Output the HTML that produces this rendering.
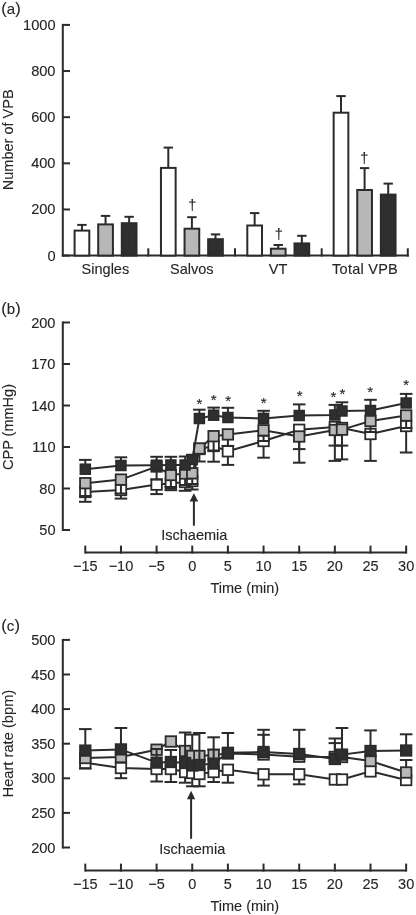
<!DOCTYPE html>
<html><head><meta charset="utf-8"><style>
html,body{margin:0;padding:0;background:#fff;}
body{width:416px;height:915px;overflow:hidden;}
svg{display:block;filter:blur(0.3px);}
text{font-family:"Liberation Sans",sans-serif;fill:#262626;stroke:#262626;stroke-width:0.12px;}
</style></head><body>
<svg width="416" height="915" viewBox="0 0 416 915">
<text x="1.2" y="13.8" font-size="16.5">(<tspan font-size="15" dx="0.1">a</tspan><tspan dx="0.2">)</tspan></text>
<line x1="62.80" y1="23.90" x2="62.80" y2="256.60" stroke="#2b2b2b" stroke-width="2.0"/>
<line x1="62.80" y1="255.60" x2="70.00" y2="255.60" stroke="#2b2b2b" stroke-width="2.0"/>
<text x="55.50" y="260.60" font-size="14.6" text-anchor="end" >0</text>
<line x1="62.80" y1="209.46" x2="70.00" y2="209.46" stroke="#2b2b2b" stroke-width="2.0"/>
<text x="55.50" y="214.46" font-size="14.6" text-anchor="end" >200</text>
<line x1="62.80" y1="163.32" x2="70.00" y2="163.32" stroke="#2b2b2b" stroke-width="2.0"/>
<text x="55.50" y="168.32" font-size="14.6" text-anchor="end" >400</text>
<line x1="62.80" y1="117.18" x2="70.00" y2="117.18" stroke="#2b2b2b" stroke-width="2.0"/>
<text x="55.50" y="122.18" font-size="14.6" text-anchor="end" >600</text>
<line x1="62.80" y1="71.04" x2="70.00" y2="71.04" stroke="#2b2b2b" stroke-width="2.0"/>
<text x="55.50" y="76.04" font-size="14.6" text-anchor="end" >800</text>
<line x1="62.80" y1="24.90" x2="70.00" y2="24.90" stroke="#2b2b2b" stroke-width="2.0"/>
<text x="55.50" y="29.90" font-size="14.6" text-anchor="end" >1000</text>
<line x1="61.80" y1="255.60" x2="408.80" y2="255.60" stroke="#2b2b2b" stroke-width="2.0"/>
<line x1="148.30" y1="256.60" x2="148.30" y2="248.30" stroke="#2b2b2b" stroke-width="2.0"/>
<line x1="235.00" y1="256.60" x2="235.00" y2="248.30" stroke="#2b2b2b" stroke-width="2.0"/>
<line x1="321.70" y1="256.60" x2="321.70" y2="248.30" stroke="#2b2b2b" stroke-width="2.0"/>
<line x1="407.80" y1="256.60" x2="407.80" y2="248.30" stroke="#2b2b2b" stroke-width="2.0"/>
<text transform="translate(12.8,139.8) rotate(-90)" font-size="14.5" text-anchor="middle">Number of VPB</text>
<line x1="81.95" y1="230.60" x2="81.95" y2="224.90" stroke="#2b2b2b" stroke-width="2.0"/>
<line x1="77.25" y1="224.90" x2="86.65" y2="224.90" stroke="#2b2b2b" stroke-width="2.0"/>
<rect x="74.60" y="230.60" width="14.70" height="25.00" fill="#ffffff" stroke="#2b2b2b" stroke-width="2.0"/>
<line x1="105.55" y1="224.40" x2="105.55" y2="215.90" stroke="#2b2b2b" stroke-width="2.0"/>
<line x1="100.85" y1="215.90" x2="110.25" y2="215.90" stroke="#2b2b2b" stroke-width="2.0"/>
<rect x="98.20" y="224.40" width="14.70" height="31.20" fill="#b8b8b8" stroke="#2b2b2b" stroke-width="2.0"/>
<line x1="129.15" y1="223.20" x2="129.15" y2="216.80" stroke="#2b2b2b" stroke-width="2.0"/>
<line x1="124.45" y1="216.80" x2="133.85" y2="216.80" stroke="#2b2b2b" stroke-width="2.0"/>
<rect x="121.80" y="223.20" width="14.70" height="32.40" fill="#2f2f2f" stroke="#2b2b2b" stroke-width="2.0"/>
<text x="105.40" y="273.80" font-size="14.5" text-anchor="middle" >Singles</text>
<line x1="168.30" y1="167.90" x2="168.30" y2="147.60" stroke="#2b2b2b" stroke-width="2.0"/>
<line x1="163.60" y1="147.60" x2="173.00" y2="147.60" stroke="#2b2b2b" stroke-width="2.0"/>
<rect x="160.95" y="167.90" width="14.70" height="87.70" fill="#ffffff" stroke="#2b2b2b" stroke-width="2.0"/>
<line x1="191.90" y1="228.70" x2="191.90" y2="217.20" stroke="#2b2b2b" stroke-width="2.0"/>
<line x1="187.20" y1="217.20" x2="196.60" y2="217.20" stroke="#2b2b2b" stroke-width="2.0"/>
<rect x="184.55" y="228.70" width="14.70" height="26.90" fill="#b8b8b8" stroke="#2b2b2b" stroke-width="2.0"/>
<line x1="215.50" y1="239.20" x2="215.50" y2="234.40" stroke="#2b2b2b" stroke-width="2.0"/>
<line x1="210.80" y1="234.40" x2="220.20" y2="234.40" stroke="#2b2b2b" stroke-width="2.0"/>
<rect x="208.15" y="239.20" width="14.70" height="16.40" fill="#2f2f2f" stroke="#2b2b2b" stroke-width="2.0"/>
<text x="191.75" y="273.80" font-size="14.5" text-anchor="middle" >Salvos</text>
<line x1="254.65" y1="225.50" x2="254.65" y2="213.10" stroke="#2b2b2b" stroke-width="2.0"/>
<line x1="249.95" y1="213.10" x2="259.35" y2="213.10" stroke="#2b2b2b" stroke-width="2.0"/>
<rect x="247.30" y="225.50" width="14.70" height="30.10" fill="#ffffff" stroke="#2b2b2b" stroke-width="2.0"/>
<line x1="278.25" y1="248.70" x2="278.25" y2="245.00" stroke="#2b2b2b" stroke-width="2.0"/>
<line x1="273.55" y1="245.00" x2="282.95" y2="245.00" stroke="#2b2b2b" stroke-width="2.0"/>
<rect x="270.90" y="248.70" width="14.70" height="6.90" fill="#b8b8b8" stroke="#2b2b2b" stroke-width="2.0"/>
<line x1="301.85" y1="243.40" x2="301.85" y2="235.80" stroke="#2b2b2b" stroke-width="2.0"/>
<line x1="297.15" y1="235.80" x2="306.55" y2="235.80" stroke="#2b2b2b" stroke-width="2.0"/>
<rect x="294.50" y="243.40" width="14.70" height="12.20" fill="#2f2f2f" stroke="#2b2b2b" stroke-width="2.0"/>
<text x="278.10" y="273.80" font-size="14.5" text-anchor="middle" >VT</text>
<line x1="341.00" y1="112.70" x2="341.00" y2="96.10" stroke="#2b2b2b" stroke-width="2.0"/>
<line x1="336.30" y1="96.10" x2="345.70" y2="96.10" stroke="#2b2b2b" stroke-width="2.0"/>
<rect x="333.65" y="112.70" width="14.70" height="142.90" fill="#ffffff" stroke="#2b2b2b" stroke-width="2.0"/>
<line x1="364.60" y1="190.00" x2="364.60" y2="168.10" stroke="#2b2b2b" stroke-width="2.0"/>
<line x1="359.90" y1="168.10" x2="369.30" y2="168.10" stroke="#2b2b2b" stroke-width="2.0"/>
<rect x="357.25" y="190.00" width="14.70" height="65.60" fill="#b8b8b8" stroke="#2b2b2b" stroke-width="2.0"/>
<line x1="388.20" y1="194.60" x2="388.20" y2="183.60" stroke="#2b2b2b" stroke-width="2.0"/>
<line x1="383.50" y1="183.60" x2="392.90" y2="183.60" stroke="#2b2b2b" stroke-width="2.0"/>
<rect x="380.85" y="194.60" width="14.70" height="61.00" fill="#2f2f2f" stroke="#2b2b2b" stroke-width="2.0"/>
<text x="365.05" y="273.80" font-size="14.5" text-anchor="middle" letter-spacing="0.25">Total VPB</text>
<text x="192.40" y="210.30" font-size="14.5" text-anchor="middle" >&#8224;</text>
<text x="278.70" y="239.40" font-size="14.5" text-anchor="middle" >&#8224;</text>
<text x="364.30" y="162.60" font-size="14.5" text-anchor="middle" >&#8224;</text>
<text x="1.2" y="314.2" font-size="16.5">(<tspan font-size="15" dx="0.1">b</tspan><tspan dx="0.2">)</tspan></text>
<line x1="62.80" y1="321.50" x2="62.80" y2="531.00" stroke="#2b2b2b" stroke-width="2.0"/>
<line x1="62.80" y1="530.00" x2="70.00" y2="530.00" stroke="#2b2b2b" stroke-width="2.0"/>
<text x="55.50" y="535.00" font-size="14.6" text-anchor="end" >50</text>
<line x1="62.80" y1="488.50" x2="70.00" y2="488.50" stroke="#2b2b2b" stroke-width="2.0"/>
<text x="55.50" y="493.50" font-size="14.6" text-anchor="end" >80</text>
<line x1="62.80" y1="447.00" x2="70.00" y2="447.00" stroke="#2b2b2b" stroke-width="2.0"/>
<text x="55.50" y="452.00" font-size="14.6" text-anchor="end" >110</text>
<line x1="62.80" y1="405.50" x2="70.00" y2="405.50" stroke="#2b2b2b" stroke-width="2.0"/>
<text x="55.50" y="410.50" font-size="14.6" text-anchor="end" >140</text>
<line x1="62.80" y1="364.00" x2="70.00" y2="364.00" stroke="#2b2b2b" stroke-width="2.0"/>
<text x="55.50" y="369.00" font-size="14.6" text-anchor="end" >170</text>
<line x1="62.80" y1="322.50" x2="70.00" y2="322.50" stroke="#2b2b2b" stroke-width="2.0"/>
<text x="55.50" y="327.50" font-size="14.6" text-anchor="end" >200</text>
<text transform="translate(12.8,427) rotate(-90)" font-size="14.5" text-anchor="middle">CPP (mmHg)</text>
<line x1="85.30" y1="552.60" x2="406.15" y2="552.60" stroke="#2b2b2b" stroke-width="2.0"/>
<line x1="85.30" y1="553.60" x2="85.30" y2="545.60" stroke="#2b2b2b" stroke-width="2.0"/>
<text x="85.30" y="570.60" font-size="14.5" text-anchor="middle" >&#8722;15</text>
<line x1="120.95" y1="553.60" x2="120.95" y2="545.60" stroke="#2b2b2b" stroke-width="2.0"/>
<text x="120.95" y="570.60" font-size="14.5" text-anchor="middle" >&#8722;10</text>
<line x1="156.60" y1="553.60" x2="156.60" y2="545.60" stroke="#2b2b2b" stroke-width="2.0"/>
<text x="156.60" y="570.60" font-size="14.5" text-anchor="middle" >&#8722;5</text>
<line x1="192.25" y1="553.60" x2="192.25" y2="545.60" stroke="#2b2b2b" stroke-width="2.0"/>
<text x="192.25" y="570.60" font-size="14.5" text-anchor="middle" >0</text>
<line x1="227.90" y1="553.60" x2="227.90" y2="545.60" stroke="#2b2b2b" stroke-width="2.0"/>
<text x="227.90" y="570.60" font-size="14.5" text-anchor="middle" >5</text>
<line x1="263.55" y1="553.60" x2="263.55" y2="545.60" stroke="#2b2b2b" stroke-width="2.0"/>
<text x="263.55" y="570.60" font-size="14.5" text-anchor="middle" >10</text>
<line x1="299.20" y1="553.60" x2="299.20" y2="545.60" stroke="#2b2b2b" stroke-width="2.0"/>
<text x="299.20" y="570.60" font-size="14.5" text-anchor="middle" >15</text>
<line x1="334.85" y1="553.60" x2="334.85" y2="545.60" stroke="#2b2b2b" stroke-width="2.0"/>
<text x="334.85" y="570.60" font-size="14.5" text-anchor="middle" >20</text>
<line x1="370.50" y1="553.60" x2="370.50" y2="545.60" stroke="#2b2b2b" stroke-width="2.0"/>
<text x="370.50" y="570.60" font-size="14.5" text-anchor="middle" >25</text>
<line x1="406.15" y1="553.60" x2="406.15" y2="545.60" stroke="#2b2b2b" stroke-width="2.0"/>
<text x="406.15" y="570.60" font-size="14.5" text-anchor="middle" >30</text>
<text x="244.80" y="593.00" font-size="14.5" text-anchor="middle" >Time (min)</text>
<polyline points="85.30,492.00 120.95,490.00 156.60,484.60 170.86,483.50 185.12,482.00 192.25,481.00 199.38,449.00 213.64,446.00 227.90,451.30 263.55,441.00 299.20,429.80 334.85,427.00 341.98,428.00 370.50,434.00 406.15,426.00" fill="none" stroke="#2b2b2b" stroke-width="2.0"/>
<line x1="85.30" y1="492.00" x2="85.30" y2="501.80" stroke="#2b2b2b" stroke-width="2.0"/>
<line x1="79.00" y1="501.80" x2="91.60" y2="501.80" stroke="#2b2b2b" stroke-width="2.0"/>
<line x1="120.95" y1="490.00" x2="120.95" y2="498.60" stroke="#2b2b2b" stroke-width="2.0"/>
<line x1="114.65" y1="498.60" x2="127.25" y2="498.60" stroke="#2b2b2b" stroke-width="2.0"/>
<line x1="156.60" y1="484.60" x2="156.60" y2="494.10" stroke="#2b2b2b" stroke-width="2.0"/>
<line x1="150.30" y1="494.10" x2="162.90" y2="494.10" stroke="#2b2b2b" stroke-width="2.0"/>
<line x1="170.86" y1="483.50" x2="170.86" y2="490.20" stroke="#2b2b2b" stroke-width="2.0"/>
<line x1="164.56" y1="490.20" x2="177.16" y2="490.20" stroke="#2b2b2b" stroke-width="2.0"/>
<line x1="185.12" y1="482.00" x2="185.12" y2="490.80" stroke="#2b2b2b" stroke-width="2.0"/>
<line x1="178.82" y1="490.80" x2="191.42" y2="490.80" stroke="#2b2b2b" stroke-width="2.0"/>
<line x1="192.25" y1="481.00" x2="192.25" y2="489.50" stroke="#2b2b2b" stroke-width="2.0"/>
<line x1="185.95" y1="489.50" x2="198.55" y2="489.50" stroke="#2b2b2b" stroke-width="2.0"/>
<line x1="199.38" y1="449.00" x2="199.38" y2="461.50" stroke="#2b2b2b" stroke-width="2.0"/>
<line x1="193.08" y1="461.50" x2="205.68" y2="461.50" stroke="#2b2b2b" stroke-width="2.0"/>
<line x1="213.64" y1="446.00" x2="213.64" y2="461.70" stroke="#2b2b2b" stroke-width="2.0"/>
<line x1="207.34" y1="461.70" x2="219.94" y2="461.70" stroke="#2b2b2b" stroke-width="2.0"/>
<line x1="227.90" y1="451.30" x2="227.90" y2="464.90" stroke="#2b2b2b" stroke-width="2.0"/>
<line x1="221.60" y1="464.90" x2="234.20" y2="464.90" stroke="#2b2b2b" stroke-width="2.0"/>
<line x1="263.55" y1="441.00" x2="263.55" y2="457.70" stroke="#2b2b2b" stroke-width="2.0"/>
<line x1="257.25" y1="457.70" x2="269.85" y2="457.70" stroke="#2b2b2b" stroke-width="2.0"/>
<line x1="299.20" y1="429.80" x2="299.20" y2="462.70" stroke="#2b2b2b" stroke-width="2.0"/>
<line x1="292.90" y1="462.70" x2="305.50" y2="462.70" stroke="#2b2b2b" stroke-width="2.0"/>
<line x1="334.85" y1="427.00" x2="334.85" y2="460.90" stroke="#2b2b2b" stroke-width="2.0"/>
<line x1="328.55" y1="460.90" x2="341.15" y2="460.90" stroke="#2b2b2b" stroke-width="2.0"/>
<line x1="341.98" y1="428.00" x2="341.98" y2="459.40" stroke="#2b2b2b" stroke-width="2.0"/>
<line x1="335.68" y1="459.40" x2="348.28" y2="459.40" stroke="#2b2b2b" stroke-width="2.0"/>
<line x1="370.50" y1="434.00" x2="370.50" y2="460.90" stroke="#2b2b2b" stroke-width="2.0"/>
<line x1="364.20" y1="460.90" x2="376.80" y2="460.90" stroke="#2b2b2b" stroke-width="2.0"/>
<line x1="406.15" y1="426.00" x2="406.15" y2="452.50" stroke="#2b2b2b" stroke-width="2.0"/>
<line x1="399.85" y1="452.50" x2="412.45" y2="452.50" stroke="#2b2b2b" stroke-width="2.0"/>
<rect x="80.05" y="486.75" width="10.50" height="10.50" fill="#ffffff" stroke="#2b2b2b" stroke-width="1.8"/>
<rect x="115.70" y="484.75" width="10.50" height="10.50" fill="#ffffff" stroke="#2b2b2b" stroke-width="1.8"/>
<rect x="151.35" y="479.35" width="10.50" height="10.50" fill="#ffffff" stroke="#2b2b2b" stroke-width="1.8"/>
<rect x="165.61" y="478.25" width="10.50" height="10.50" fill="#ffffff" stroke="#2b2b2b" stroke-width="1.8"/>
<rect x="179.87" y="476.75" width="10.50" height="10.50" fill="#ffffff" stroke="#2b2b2b" stroke-width="1.8"/>
<rect x="187.00" y="475.75" width="10.50" height="10.50" fill="#ffffff" stroke="#2b2b2b" stroke-width="1.8"/>
<rect x="194.13" y="443.75" width="10.50" height="10.50" fill="#ffffff" stroke="#2b2b2b" stroke-width="1.8"/>
<rect x="208.39" y="440.75" width="10.50" height="10.50" fill="#ffffff" stroke="#2b2b2b" stroke-width="1.8"/>
<rect x="222.65" y="446.05" width="10.50" height="10.50" fill="#ffffff" stroke="#2b2b2b" stroke-width="1.8"/>
<rect x="258.30" y="435.75" width="10.50" height="10.50" fill="#ffffff" stroke="#2b2b2b" stroke-width="1.8"/>
<rect x="293.95" y="424.55" width="10.50" height="10.50" fill="#ffffff" stroke="#2b2b2b" stroke-width="1.8"/>
<rect x="329.60" y="421.75" width="10.50" height="10.50" fill="#ffffff" stroke="#2b2b2b" stroke-width="1.8"/>
<rect x="336.73" y="422.75" width="10.50" height="10.50" fill="#ffffff" stroke="#2b2b2b" stroke-width="1.8"/>
<rect x="365.25" y="428.75" width="10.50" height="10.50" fill="#ffffff" stroke="#2b2b2b" stroke-width="1.8"/>
<rect x="400.90" y="420.75" width="10.50" height="10.50" fill="#ffffff" stroke="#2b2b2b" stroke-width="1.8"/>
<polyline points="85.30,483.20 120.95,479.60 156.60,466.50 170.86,475.00 185.12,473.50 192.25,473.30 199.38,448.50 213.64,436.20 227.90,434.40 263.55,430.30 299.20,436.50 334.85,430.00 341.98,429.60 370.50,421.00 406.15,415.50" fill="none" stroke="#2b2b2b" stroke-width="2.0"/>
<line x1="85.30" y1="483.20" x2="85.30" y2="496.00" stroke="#2b2b2b" stroke-width="2.0"/>
<line x1="79.00" y1="496.00" x2="91.60" y2="496.00" stroke="#2b2b2b" stroke-width="2.0"/>
<line x1="120.95" y1="479.60" x2="120.95" y2="493.50" stroke="#2b2b2b" stroke-width="2.0"/>
<line x1="114.65" y1="493.50" x2="127.25" y2="493.50" stroke="#2b2b2b" stroke-width="2.0"/>
<line x1="156.60" y1="466.50" x2="156.60" y2="479.50" stroke="#2b2b2b" stroke-width="2.0"/>
<line x1="150.30" y1="479.50" x2="162.90" y2="479.50" stroke="#2b2b2b" stroke-width="2.0"/>
<line x1="170.86" y1="475.00" x2="170.86" y2="487.00" stroke="#2b2b2b" stroke-width="2.0"/>
<line x1="164.56" y1="487.00" x2="177.16" y2="487.00" stroke="#2b2b2b" stroke-width="2.0"/>
<line x1="185.12" y1="473.50" x2="185.12" y2="485.00" stroke="#2b2b2b" stroke-width="2.0"/>
<line x1="178.82" y1="485.00" x2="191.42" y2="485.00" stroke="#2b2b2b" stroke-width="2.0"/>
<line x1="192.25" y1="473.30" x2="192.25" y2="484.00" stroke="#2b2b2b" stroke-width="2.0"/>
<line x1="185.95" y1="484.00" x2="198.55" y2="484.00" stroke="#2b2b2b" stroke-width="2.0"/>
<line x1="199.38" y1="448.50" x2="199.38" y2="453.00" stroke="#2b2b2b" stroke-width="2.0"/>
<line x1="193.08" y1="453.00" x2="205.68" y2="453.00" stroke="#2b2b2b" stroke-width="2.0"/>
<line x1="213.64" y1="436.20" x2="213.64" y2="450.50" stroke="#2b2b2b" stroke-width="2.0"/>
<line x1="207.34" y1="450.50" x2="219.94" y2="450.50" stroke="#2b2b2b" stroke-width="2.0"/>
<line x1="227.90" y1="434.40" x2="227.90" y2="445.90" stroke="#2b2b2b" stroke-width="2.0"/>
<line x1="221.60" y1="445.90" x2="234.20" y2="445.90" stroke="#2b2b2b" stroke-width="2.0"/>
<line x1="263.55" y1="430.30" x2="263.55" y2="441.00" stroke="#2b2b2b" stroke-width="2.0"/>
<line x1="257.25" y1="441.00" x2="269.85" y2="441.00" stroke="#2b2b2b" stroke-width="2.0"/>
<line x1="299.20" y1="436.50" x2="299.20" y2="449.10" stroke="#2b2b2b" stroke-width="2.0"/>
<line x1="292.90" y1="449.10" x2="305.50" y2="449.10" stroke="#2b2b2b" stroke-width="2.0"/>
<line x1="334.85" y1="430.00" x2="334.85" y2="445.60" stroke="#2b2b2b" stroke-width="2.0"/>
<line x1="328.55" y1="445.60" x2="341.15" y2="445.60" stroke="#2b2b2b" stroke-width="2.0"/>
<line x1="341.98" y1="429.60" x2="341.98" y2="445.60" stroke="#2b2b2b" stroke-width="2.0"/>
<line x1="335.68" y1="445.60" x2="348.28" y2="445.60" stroke="#2b2b2b" stroke-width="2.0"/>
<line x1="370.50" y1="421.00" x2="370.50" y2="432.00" stroke="#2b2b2b" stroke-width="2.0"/>
<line x1="364.20" y1="432.00" x2="376.80" y2="432.00" stroke="#2b2b2b" stroke-width="2.0"/>
<line x1="406.15" y1="415.50" x2="406.15" y2="428.00" stroke="#2b2b2b" stroke-width="2.0"/>
<line x1="399.85" y1="428.00" x2="412.45" y2="428.00" stroke="#2b2b2b" stroke-width="2.0"/>
<rect x="80.05" y="477.95" width="10.50" height="10.50" fill="#b8b8b8" stroke="#2b2b2b" stroke-width="1.8"/>
<rect x="115.70" y="474.35" width="10.50" height="10.50" fill="#b8b8b8" stroke="#2b2b2b" stroke-width="1.8"/>
<rect x="151.35" y="461.25" width="10.50" height="10.50" fill="#b8b8b8" stroke="#2b2b2b" stroke-width="1.8"/>
<rect x="165.61" y="469.75" width="10.50" height="10.50" fill="#b8b8b8" stroke="#2b2b2b" stroke-width="1.8"/>
<rect x="179.87" y="468.25" width="10.50" height="10.50" fill="#b8b8b8" stroke="#2b2b2b" stroke-width="1.8"/>
<rect x="187.00" y="468.05" width="10.50" height="10.50" fill="#b8b8b8" stroke="#2b2b2b" stroke-width="1.8"/>
<rect x="194.13" y="443.25" width="10.50" height="10.50" fill="#b8b8b8" stroke="#2b2b2b" stroke-width="1.8"/>
<rect x="208.39" y="430.95" width="10.50" height="10.50" fill="#b8b8b8" stroke="#2b2b2b" stroke-width="1.8"/>
<rect x="222.65" y="429.15" width="10.50" height="10.50" fill="#b8b8b8" stroke="#2b2b2b" stroke-width="1.8"/>
<rect x="258.30" y="425.05" width="10.50" height="10.50" fill="#b8b8b8" stroke="#2b2b2b" stroke-width="1.8"/>
<rect x="293.95" y="431.25" width="10.50" height="10.50" fill="#b8b8b8" stroke="#2b2b2b" stroke-width="1.8"/>
<rect x="329.60" y="424.75" width="10.50" height="10.50" fill="#b8b8b8" stroke="#2b2b2b" stroke-width="1.8"/>
<rect x="336.73" y="424.35" width="10.50" height="10.50" fill="#b8b8b8" stroke="#2b2b2b" stroke-width="1.8"/>
<rect x="365.25" y="415.75" width="10.50" height="10.50" fill="#b8b8b8" stroke="#2b2b2b" stroke-width="1.8"/>
<rect x="400.90" y="410.25" width="10.50" height="10.50" fill="#b8b8b8" stroke="#2b2b2b" stroke-width="1.8"/>
<polyline points="85.30,469.20 120.95,465.50 156.60,465.20 170.86,465.00 185.12,465.00 192.25,459.50 199.38,418.50 213.64,415.20 227.90,417.50 263.55,418.40 299.20,415.50 334.85,415.00 341.98,411.00 370.50,410.50 406.15,403.00" fill="none" stroke="#2b2b2b" stroke-width="2.0"/>
<line x1="85.30" y1="469.20" x2="85.30" y2="459.90" stroke="#2b2b2b" stroke-width="2.0"/>
<line x1="79.00" y1="459.90" x2="91.60" y2="459.90" stroke="#2b2b2b" stroke-width="2.0"/>
<line x1="120.95" y1="465.50" x2="120.95" y2="457.30" stroke="#2b2b2b" stroke-width="2.0"/>
<line x1="114.65" y1="457.30" x2="127.25" y2="457.30" stroke="#2b2b2b" stroke-width="2.0"/>
<line x1="156.60" y1="465.20" x2="156.60" y2="456.80" stroke="#2b2b2b" stroke-width="2.0"/>
<line x1="150.30" y1="456.80" x2="162.90" y2="456.80" stroke="#2b2b2b" stroke-width="2.0"/>
<line x1="170.86" y1="465.00" x2="170.86" y2="456.80" stroke="#2b2b2b" stroke-width="2.0"/>
<line x1="164.56" y1="456.80" x2="177.16" y2="456.80" stroke="#2b2b2b" stroke-width="2.0"/>
<line x1="185.12" y1="465.00" x2="185.12" y2="456.50" stroke="#2b2b2b" stroke-width="2.0"/>
<line x1="178.82" y1="456.50" x2="191.42" y2="456.50" stroke="#2b2b2b" stroke-width="2.0"/>
<line x1="192.25" y1="459.50" x2="192.25" y2="455.00" stroke="#2b2b2b" stroke-width="2.0"/>
<line x1="185.95" y1="455.00" x2="198.55" y2="455.00" stroke="#2b2b2b" stroke-width="2.0"/>
<line x1="199.38" y1="418.50" x2="199.38" y2="409.70" stroke="#2b2b2b" stroke-width="2.0"/>
<line x1="193.08" y1="409.70" x2="205.68" y2="409.70" stroke="#2b2b2b" stroke-width="2.0"/>
<line x1="213.64" y1="415.20" x2="213.64" y2="407.60" stroke="#2b2b2b" stroke-width="2.0"/>
<line x1="207.34" y1="407.60" x2="219.94" y2="407.60" stroke="#2b2b2b" stroke-width="2.0"/>
<line x1="227.90" y1="417.50" x2="227.90" y2="407.80" stroke="#2b2b2b" stroke-width="2.0"/>
<line x1="221.60" y1="407.80" x2="234.20" y2="407.80" stroke="#2b2b2b" stroke-width="2.0"/>
<line x1="263.55" y1="418.40" x2="263.55" y2="410.80" stroke="#2b2b2b" stroke-width="2.0"/>
<line x1="257.25" y1="410.80" x2="269.85" y2="410.80" stroke="#2b2b2b" stroke-width="2.0"/>
<line x1="299.20" y1="415.50" x2="299.20" y2="404.40" stroke="#2b2b2b" stroke-width="2.0"/>
<line x1="292.90" y1="404.40" x2="305.50" y2="404.40" stroke="#2b2b2b" stroke-width="2.0"/>
<line x1="334.85" y1="415.00" x2="334.85" y2="404.90" stroke="#2b2b2b" stroke-width="2.0"/>
<line x1="328.55" y1="404.90" x2="341.15" y2="404.90" stroke="#2b2b2b" stroke-width="2.0"/>
<line x1="341.98" y1="411.00" x2="341.98" y2="402.30" stroke="#2b2b2b" stroke-width="2.0"/>
<line x1="335.68" y1="402.30" x2="348.28" y2="402.30" stroke="#2b2b2b" stroke-width="2.0"/>
<line x1="370.50" y1="410.50" x2="370.50" y2="399.80" stroke="#2b2b2b" stroke-width="2.0"/>
<line x1="364.20" y1="399.80" x2="376.80" y2="399.80" stroke="#2b2b2b" stroke-width="2.0"/>
<line x1="406.15" y1="403.00" x2="406.15" y2="393.90" stroke="#2b2b2b" stroke-width="2.0"/>
<line x1="399.85" y1="393.90" x2="412.45" y2="393.90" stroke="#2b2b2b" stroke-width="2.0"/>
<rect x="80.45" y="464.35" width="9.70" height="9.70" fill="#2f2f2f" stroke="#2b2b2b" stroke-width="1.8"/>
<rect x="116.10" y="460.65" width="9.70" height="9.70" fill="#2f2f2f" stroke="#2b2b2b" stroke-width="1.8"/>
<rect x="151.75" y="460.35" width="9.70" height="9.70" fill="#2f2f2f" stroke="#2b2b2b" stroke-width="1.8"/>
<rect x="166.01" y="460.15" width="9.70" height="9.70" fill="#2f2f2f" stroke="#2b2b2b" stroke-width="1.8"/>
<rect x="180.27" y="460.15" width="9.70" height="9.70" fill="#2f2f2f" stroke="#2b2b2b" stroke-width="1.8"/>
<rect x="187.40" y="454.65" width="9.70" height="9.70" fill="#2f2f2f" stroke="#2b2b2b" stroke-width="1.8"/>
<rect x="194.53" y="413.65" width="9.70" height="9.70" fill="#2f2f2f" stroke="#2b2b2b" stroke-width="1.8"/>
<rect x="208.79" y="410.35" width="9.70" height="9.70" fill="#2f2f2f" stroke="#2b2b2b" stroke-width="1.8"/>
<rect x="223.05" y="412.65" width="9.70" height="9.70" fill="#2f2f2f" stroke="#2b2b2b" stroke-width="1.8"/>
<rect x="258.70" y="413.55" width="9.70" height="9.70" fill="#2f2f2f" stroke="#2b2b2b" stroke-width="1.8"/>
<rect x="294.35" y="410.65" width="9.70" height="9.70" fill="#2f2f2f" stroke="#2b2b2b" stroke-width="1.8"/>
<rect x="330.00" y="410.15" width="9.70" height="9.70" fill="#2f2f2f" stroke="#2b2b2b" stroke-width="1.8"/>
<rect x="337.13" y="406.15" width="9.70" height="9.70" fill="#2f2f2f" stroke="#2b2b2b" stroke-width="1.8"/>
<rect x="365.65" y="405.65" width="9.70" height="9.70" fill="#2f2f2f" stroke="#2b2b2b" stroke-width="1.8"/>
<rect x="401.30" y="398.15" width="9.70" height="9.70" fill="#2f2f2f" stroke="#2b2b2b" stroke-width="1.8"/>
<text x="199.40" y="408.50" font-size="15" text-anchor="middle" >*</text>
<text x="213.70" y="404.60" font-size="15" text-anchor="middle" >*</text>
<text x="228.20" y="406.10" font-size="15" text-anchor="middle" >*</text>
<text x="263.70" y="407.90" font-size="15" text-anchor="middle" >*</text>
<text x="299.60" y="401.10" font-size="15" text-anchor="middle" >*</text>
<text x="333.40" y="401.80" font-size="15" text-anchor="middle" >*</text>
<text x="342.30" y="399.40" font-size="15" text-anchor="middle" >*</text>
<text x="370.20" y="396.70" font-size="15" text-anchor="middle" >*</text>
<text x="406.20" y="389.80" font-size="15" text-anchor="middle" >*</text>
<line x1="193.90" y1="525.70" x2="193.90" y2="500.00" stroke="#2b2b2b" stroke-width="2.0"/>
<polygon points="193.9,493.2 189.6,501.5 198.2,501.5" fill="#2b2b2b"/>
<text x="194.30" y="539.80" font-size="14.5" text-anchor="middle" >Ischaemia</text>
<text x="1.2" y="630.7" font-size="16.5">(<tspan font-size="15" dx="0.1">c</tspan><tspan dx="0.2">)</tspan></text>
<line x1="62.80" y1="638.90" x2="62.80" y2="848.50" stroke="#2b2b2b" stroke-width="2.0"/>
<line x1="62.80" y1="847.50" x2="70.00" y2="847.50" stroke="#2b2b2b" stroke-width="2.0"/>
<text x="55.50" y="852.50" font-size="14.6" text-anchor="end" >200</text>
<line x1="62.80" y1="812.90" x2="70.00" y2="812.90" stroke="#2b2b2b" stroke-width="2.0"/>
<text x="55.50" y="817.90" font-size="14.6" text-anchor="end" >250</text>
<line x1="62.80" y1="778.30" x2="70.00" y2="778.30" stroke="#2b2b2b" stroke-width="2.0"/>
<text x="55.50" y="783.30" font-size="14.6" text-anchor="end" >300</text>
<line x1="62.80" y1="743.70" x2="70.00" y2="743.70" stroke="#2b2b2b" stroke-width="2.0"/>
<text x="55.50" y="748.70" font-size="14.6" text-anchor="end" >350</text>
<line x1="62.80" y1="709.10" x2="70.00" y2="709.10" stroke="#2b2b2b" stroke-width="2.0"/>
<text x="55.50" y="714.10" font-size="14.6" text-anchor="end" >400</text>
<line x1="62.80" y1="674.50" x2="70.00" y2="674.50" stroke="#2b2b2b" stroke-width="2.0"/>
<text x="55.50" y="679.50" font-size="14.6" text-anchor="end" >450</text>
<line x1="62.80" y1="639.90" x2="70.00" y2="639.90" stroke="#2b2b2b" stroke-width="2.0"/>
<text x="55.50" y="644.90" font-size="14.6" text-anchor="end" >500</text>
<text transform="translate(12.5,743.6) rotate(-90)" font-size="14.7" text-anchor="middle">Heart rate (bpm)</text>
<line x1="85.30" y1="870.60" x2="406.15" y2="870.60" stroke="#2b2b2b" stroke-width="2.0"/>
<line x1="85.30" y1="871.60" x2="85.30" y2="863.60" stroke="#2b2b2b" stroke-width="2.0"/>
<text x="85.30" y="888.60" font-size="14.5" text-anchor="middle" >&#8722;15</text>
<line x1="120.95" y1="871.60" x2="120.95" y2="863.60" stroke="#2b2b2b" stroke-width="2.0"/>
<text x="120.95" y="888.60" font-size="14.5" text-anchor="middle" >&#8722;10</text>
<line x1="156.60" y1="871.60" x2="156.60" y2="863.60" stroke="#2b2b2b" stroke-width="2.0"/>
<text x="156.60" y="888.60" font-size="14.5" text-anchor="middle" >&#8722;5</text>
<line x1="192.25" y1="871.60" x2="192.25" y2="863.60" stroke="#2b2b2b" stroke-width="2.0"/>
<text x="192.25" y="888.60" font-size="14.5" text-anchor="middle" >0</text>
<line x1="227.90" y1="871.60" x2="227.90" y2="863.60" stroke="#2b2b2b" stroke-width="2.0"/>
<text x="227.90" y="888.60" font-size="14.5" text-anchor="middle" >5</text>
<line x1="263.55" y1="871.60" x2="263.55" y2="863.60" stroke="#2b2b2b" stroke-width="2.0"/>
<text x="263.55" y="888.60" font-size="14.5" text-anchor="middle" >10</text>
<line x1="299.20" y1="871.60" x2="299.20" y2="863.60" stroke="#2b2b2b" stroke-width="2.0"/>
<text x="299.20" y="888.60" font-size="14.5" text-anchor="middle" >15</text>
<line x1="334.85" y1="871.60" x2="334.85" y2="863.60" stroke="#2b2b2b" stroke-width="2.0"/>
<text x="334.85" y="888.60" font-size="14.5" text-anchor="middle" >20</text>
<line x1="370.50" y1="871.60" x2="370.50" y2="863.60" stroke="#2b2b2b" stroke-width="2.0"/>
<text x="370.50" y="888.60" font-size="14.5" text-anchor="middle" >25</text>
<line x1="406.15" y1="871.60" x2="406.15" y2="863.60" stroke="#2b2b2b" stroke-width="2.0"/>
<text x="406.15" y="888.60" font-size="14.5" text-anchor="middle" >30</text>
<text x="244.80" y="911.40" font-size="14.5" text-anchor="middle" >Time (min)</text>
<polyline points="85.30,762.80 120.95,768.00 156.60,769.00 170.86,769.00 185.12,772.00 192.25,773.00 199.38,774.00 213.64,772.00 227.90,769.80 263.55,774.30 299.20,774.30 334.85,779.50 341.98,779.50 370.50,771.40 406.15,780.00" fill="none" stroke="#2b2b2b" stroke-width="2.0"/>
<line x1="85.30" y1="762.80" x2="85.30" y2="768.60" stroke="#2b2b2b" stroke-width="2.0"/>
<line x1="79.00" y1="768.60" x2="91.60" y2="768.60" stroke="#2b2b2b" stroke-width="2.0"/>
<line x1="120.95" y1="768.00" x2="120.95" y2="778.20" stroke="#2b2b2b" stroke-width="2.0"/>
<line x1="114.65" y1="778.20" x2="127.25" y2="778.20" stroke="#2b2b2b" stroke-width="2.0"/>
<line x1="156.60" y1="769.00" x2="156.60" y2="781.50" stroke="#2b2b2b" stroke-width="2.0"/>
<line x1="150.30" y1="781.50" x2="162.90" y2="781.50" stroke="#2b2b2b" stroke-width="2.0"/>
<line x1="170.86" y1="769.00" x2="170.86" y2="782.00" stroke="#2b2b2b" stroke-width="2.0"/>
<line x1="164.56" y1="782.00" x2="177.16" y2="782.00" stroke="#2b2b2b" stroke-width="2.0"/>
<line x1="185.12" y1="772.00" x2="185.12" y2="782.70" stroke="#2b2b2b" stroke-width="2.0"/>
<line x1="178.82" y1="782.70" x2="191.42" y2="782.70" stroke="#2b2b2b" stroke-width="2.0"/>
<line x1="192.25" y1="773.00" x2="192.25" y2="786.30" stroke="#2b2b2b" stroke-width="2.0"/>
<line x1="185.95" y1="786.30" x2="198.55" y2="786.30" stroke="#2b2b2b" stroke-width="2.0"/>
<line x1="199.38" y1="774.00" x2="199.38" y2="786.30" stroke="#2b2b2b" stroke-width="2.0"/>
<line x1="193.08" y1="786.30" x2="205.68" y2="786.30" stroke="#2b2b2b" stroke-width="2.0"/>
<line x1="213.64" y1="772.00" x2="213.64" y2="782.00" stroke="#2b2b2b" stroke-width="2.0"/>
<line x1="207.34" y1="782.00" x2="219.94" y2="782.00" stroke="#2b2b2b" stroke-width="2.0"/>
<line x1="227.90" y1="769.80" x2="227.90" y2="782.70" stroke="#2b2b2b" stroke-width="2.0"/>
<line x1="221.60" y1="782.70" x2="234.20" y2="782.70" stroke="#2b2b2b" stroke-width="2.0"/>
<line x1="263.55" y1="774.30" x2="263.55" y2="785.60" stroke="#2b2b2b" stroke-width="2.0"/>
<line x1="257.25" y1="785.60" x2="269.85" y2="785.60" stroke="#2b2b2b" stroke-width="2.0"/>
<line x1="299.20" y1="774.30" x2="299.20" y2="784.30" stroke="#2b2b2b" stroke-width="2.0"/>
<line x1="292.90" y1="784.30" x2="305.50" y2="784.30" stroke="#2b2b2b" stroke-width="2.0"/>
<rect x="80.05" y="757.55" width="10.50" height="10.50" fill="#ffffff" stroke="#2b2b2b" stroke-width="1.8"/>
<rect x="115.70" y="762.75" width="10.50" height="10.50" fill="#ffffff" stroke="#2b2b2b" stroke-width="1.8"/>
<rect x="151.35" y="763.75" width="10.50" height="10.50" fill="#ffffff" stroke="#2b2b2b" stroke-width="1.8"/>
<rect x="165.61" y="763.75" width="10.50" height="10.50" fill="#ffffff" stroke="#2b2b2b" stroke-width="1.8"/>
<rect x="179.87" y="766.75" width="10.50" height="10.50" fill="#ffffff" stroke="#2b2b2b" stroke-width="1.8"/>
<rect x="187.00" y="767.75" width="10.50" height="10.50" fill="#ffffff" stroke="#2b2b2b" stroke-width="1.8"/>
<rect x="194.13" y="768.75" width="10.50" height="10.50" fill="#ffffff" stroke="#2b2b2b" stroke-width="1.8"/>
<rect x="208.39" y="766.75" width="10.50" height="10.50" fill="#ffffff" stroke="#2b2b2b" stroke-width="1.8"/>
<rect x="222.65" y="764.55" width="10.50" height="10.50" fill="#ffffff" stroke="#2b2b2b" stroke-width="1.8"/>
<rect x="258.30" y="769.05" width="10.50" height="10.50" fill="#ffffff" stroke="#2b2b2b" stroke-width="1.8"/>
<rect x="293.95" y="769.05" width="10.50" height="10.50" fill="#ffffff" stroke="#2b2b2b" stroke-width="1.8"/>
<rect x="329.60" y="774.25" width="10.50" height="10.50" fill="#ffffff" stroke="#2b2b2b" stroke-width="1.8"/>
<rect x="336.73" y="774.25" width="10.50" height="10.50" fill="#ffffff" stroke="#2b2b2b" stroke-width="1.8"/>
<rect x="365.25" y="766.15" width="10.50" height="10.50" fill="#ffffff" stroke="#2b2b2b" stroke-width="1.8"/>
<rect x="400.90" y="774.75" width="10.50" height="10.50" fill="#ffffff" stroke="#2b2b2b" stroke-width="1.8"/>
<polyline points="85.30,758.00 120.95,757.00 156.60,749.70 170.86,741.50 185.12,751.00 192.25,756.00 199.38,756.00 213.64,755.00 227.90,753.50 263.55,754.50 299.20,756.70 334.85,757.00 341.98,757.00 370.50,761.00 406.15,772.50" fill="none" stroke="#2b2b2b" stroke-width="2.0"/>
<line x1="192.25" y1="756.00" x2="192.25" y2="734.60" stroke="#2b2b2b" stroke-width="2.0"/>
<line x1="185.95" y1="734.60" x2="198.55" y2="734.60" stroke="#2b2b2b" stroke-width="2.0"/>
<line x1="213.64" y1="755.00" x2="213.64" y2="749.60" stroke="#2b2b2b" stroke-width="2.0"/>
<line x1="207.34" y1="749.60" x2="219.94" y2="749.60" stroke="#2b2b2b" stroke-width="2.0"/>
<line x1="263.55" y1="754.50" x2="263.55" y2="734.80" stroke="#2b2b2b" stroke-width="2.0"/>
<line x1="257.25" y1="734.80" x2="269.85" y2="734.80" stroke="#2b2b2b" stroke-width="2.0"/>
<line x1="334.85" y1="757.00" x2="334.85" y2="743.10" stroke="#2b2b2b" stroke-width="2.0"/>
<line x1="328.55" y1="743.10" x2="341.15" y2="743.10" stroke="#2b2b2b" stroke-width="2.0"/>
<line x1="406.15" y1="772.50" x2="406.15" y2="760.00" stroke="#2b2b2b" stroke-width="2.0"/>
<line x1="399.85" y1="760.00" x2="412.45" y2="760.00" stroke="#2b2b2b" stroke-width="2.0"/>
<rect x="80.05" y="752.75" width="10.50" height="10.50" fill="#b8b8b8" stroke="#2b2b2b" stroke-width="1.8"/>
<rect x="115.70" y="751.75" width="10.50" height="10.50" fill="#b8b8b8" stroke="#2b2b2b" stroke-width="1.8"/>
<rect x="151.35" y="744.45" width="10.50" height="10.50" fill="#b8b8b8" stroke="#2b2b2b" stroke-width="1.8"/>
<rect x="165.61" y="736.25" width="10.50" height="10.50" fill="#b8b8b8" stroke="#2b2b2b" stroke-width="1.8"/>
<rect x="179.87" y="745.75" width="10.50" height="10.50" fill="#b8b8b8" stroke="#2b2b2b" stroke-width="1.8"/>
<rect x="187.00" y="750.75" width="10.50" height="10.50" fill="#b8b8b8" stroke="#2b2b2b" stroke-width="1.8"/>
<rect x="194.13" y="750.75" width="10.50" height="10.50" fill="#b8b8b8" stroke="#2b2b2b" stroke-width="1.8"/>
<rect x="208.39" y="749.75" width="10.50" height="10.50" fill="#b8b8b8" stroke="#2b2b2b" stroke-width="1.8"/>
<rect x="222.65" y="748.25" width="10.50" height="10.50" fill="#b8b8b8" stroke="#2b2b2b" stroke-width="1.8"/>
<rect x="258.30" y="749.25" width="10.50" height="10.50" fill="#b8b8b8" stroke="#2b2b2b" stroke-width="1.8"/>
<rect x="293.95" y="751.45" width="10.50" height="10.50" fill="#b8b8b8" stroke="#2b2b2b" stroke-width="1.8"/>
<rect x="329.60" y="751.75" width="10.50" height="10.50" fill="#b8b8b8" stroke="#2b2b2b" stroke-width="1.8"/>
<rect x="336.73" y="751.75" width="10.50" height="10.50" fill="#b8b8b8" stroke="#2b2b2b" stroke-width="1.8"/>
<rect x="365.25" y="755.75" width="10.50" height="10.50" fill="#b8b8b8" stroke="#2b2b2b" stroke-width="1.8"/>
<rect x="400.90" y="767.25" width="10.50" height="10.50" fill="#b8b8b8" stroke="#2b2b2b" stroke-width="1.8"/>
<polyline points="85.30,750.60 120.95,749.40 156.60,762.60 170.86,762.00 185.12,763.00 192.25,765.50 199.38,765.00 213.64,763.60 227.90,752.80 263.55,752.00 299.20,754.00 334.85,759.00 341.98,754.60 370.50,751.00 406.15,750.50" fill="none" stroke="#2b2b2b" stroke-width="2.0"/>
<line x1="85.30" y1="750.60" x2="85.30" y2="729.10" stroke="#2b2b2b" stroke-width="2.0"/>
<line x1="79.00" y1="729.10" x2="91.60" y2="729.10" stroke="#2b2b2b" stroke-width="2.0"/>
<line x1="120.95" y1="749.40" x2="120.95" y2="728.00" stroke="#2b2b2b" stroke-width="2.0"/>
<line x1="114.65" y1="728.00" x2="127.25" y2="728.00" stroke="#2b2b2b" stroke-width="2.0"/>
<line x1="156.60" y1="762.60" x2="156.60" y2="749.00" stroke="#2b2b2b" stroke-width="2.0"/>
<line x1="150.30" y1="749.00" x2="162.90" y2="749.00" stroke="#2b2b2b" stroke-width="2.0"/>
<line x1="170.86" y1="762.00" x2="170.86" y2="750.00" stroke="#2b2b2b" stroke-width="2.0"/>
<line x1="164.56" y1="750.00" x2="177.16" y2="750.00" stroke="#2b2b2b" stroke-width="2.0"/>
<line x1="185.12" y1="763.00" x2="185.12" y2="732.50" stroke="#2b2b2b" stroke-width="2.0"/>
<line x1="178.82" y1="732.50" x2="191.42" y2="732.50" stroke="#2b2b2b" stroke-width="2.0"/>
<line x1="199.38" y1="765.00" x2="199.38" y2="733.00" stroke="#2b2b2b" stroke-width="2.0"/>
<line x1="193.08" y1="733.00" x2="205.68" y2="733.00" stroke="#2b2b2b" stroke-width="2.0"/>
<line x1="213.64" y1="763.60" x2="213.64" y2="737.30" stroke="#2b2b2b" stroke-width="2.0"/>
<line x1="207.34" y1="737.30" x2="219.94" y2="737.30" stroke="#2b2b2b" stroke-width="2.0"/>
<line x1="227.90" y1="752.80" x2="227.90" y2="733.00" stroke="#2b2b2b" stroke-width="2.0"/>
<line x1="221.60" y1="733.00" x2="234.20" y2="733.00" stroke="#2b2b2b" stroke-width="2.0"/>
<line x1="263.55" y1="752.00" x2="263.55" y2="729.80" stroke="#2b2b2b" stroke-width="2.0"/>
<line x1="257.25" y1="729.80" x2="269.85" y2="729.80" stroke="#2b2b2b" stroke-width="2.0"/>
<line x1="299.20" y1="754.00" x2="299.20" y2="729.80" stroke="#2b2b2b" stroke-width="2.0"/>
<line x1="292.90" y1="729.80" x2="305.50" y2="729.80" stroke="#2b2b2b" stroke-width="2.0"/>
<line x1="334.85" y1="759.00" x2="334.85" y2="738.50" stroke="#2b2b2b" stroke-width="2.0"/>
<line x1="328.55" y1="738.50" x2="341.15" y2="738.50" stroke="#2b2b2b" stroke-width="2.0"/>
<line x1="341.98" y1="754.60" x2="341.98" y2="728.00" stroke="#2b2b2b" stroke-width="2.0"/>
<line x1="335.68" y1="728.00" x2="348.28" y2="728.00" stroke="#2b2b2b" stroke-width="2.0"/>
<line x1="370.50" y1="751.00" x2="370.50" y2="730.40" stroke="#2b2b2b" stroke-width="2.0"/>
<line x1="364.20" y1="730.40" x2="376.80" y2="730.40" stroke="#2b2b2b" stroke-width="2.0"/>
<line x1="406.15" y1="750.50" x2="406.15" y2="734.30" stroke="#2b2b2b" stroke-width="2.0"/>
<line x1="399.85" y1="734.30" x2="412.45" y2="734.30" stroke="#2b2b2b" stroke-width="2.0"/>
<rect x="80.05" y="745.35" width="10.50" height="10.50" fill="#2f2f2f" stroke="#2b2b2b" stroke-width="1.8"/>
<rect x="115.70" y="744.15" width="10.50" height="10.50" fill="#2f2f2f" stroke="#2b2b2b" stroke-width="1.8"/>
<rect x="151.35" y="757.35" width="10.50" height="10.50" fill="#2f2f2f" stroke="#2b2b2b" stroke-width="1.8"/>
<rect x="165.61" y="756.75" width="10.50" height="10.50" fill="#2f2f2f" stroke="#2b2b2b" stroke-width="1.8"/>
<rect x="179.87" y="757.75" width="10.50" height="10.50" fill="#2f2f2f" stroke="#2b2b2b" stroke-width="1.8"/>
<rect x="187.00" y="760.25" width="10.50" height="10.50" fill="#2f2f2f" stroke="#2b2b2b" stroke-width="1.8"/>
<rect x="194.13" y="759.75" width="10.50" height="10.50" fill="#2f2f2f" stroke="#2b2b2b" stroke-width="1.8"/>
<rect x="208.39" y="758.35" width="10.50" height="10.50" fill="#2f2f2f" stroke="#2b2b2b" stroke-width="1.8"/>
<rect x="222.65" y="747.55" width="10.50" height="10.50" fill="#2f2f2f" stroke="#2b2b2b" stroke-width="1.8"/>
<rect x="258.30" y="746.75" width="10.50" height="10.50" fill="#2f2f2f" stroke="#2b2b2b" stroke-width="1.8"/>
<rect x="293.95" y="748.75" width="10.50" height="10.50" fill="#2f2f2f" stroke="#2b2b2b" stroke-width="1.8"/>
<rect x="329.60" y="753.75" width="10.50" height="10.50" fill="#2f2f2f" stroke="#2b2b2b" stroke-width="1.8"/>
<rect x="336.73" y="749.35" width="10.50" height="10.50" fill="#2f2f2f" stroke="#2b2b2b" stroke-width="1.8"/>
<rect x="365.25" y="745.75" width="10.50" height="10.50" fill="#2f2f2f" stroke="#2b2b2b" stroke-width="1.8"/>
<rect x="400.90" y="745.25" width="10.50" height="10.50" fill="#2f2f2f" stroke="#2b2b2b" stroke-width="1.8"/>
<line x1="191.10" y1="838.80" x2="191.10" y2="797.00" stroke="#2b2b2b" stroke-width="2.0"/>
<polygon points="191.1,790.8 187.0,799.2 195.2,799.2" fill="#2b2b2b"/>
<text x="192.20" y="853.60" font-size="14.5" text-anchor="middle" >Ischaemia</text>
</svg>
</body></html>
